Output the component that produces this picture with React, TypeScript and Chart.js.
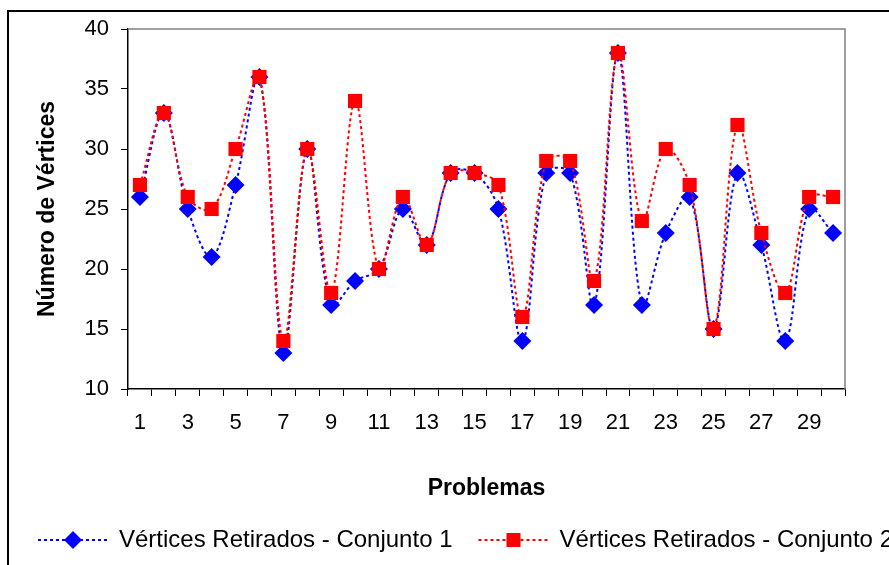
import { useEffect, useRef } from 'react';
import { Chart, registerables } from 'chart.js';

Chart.register(...registerables);

const categories = ['1', '2', '3', '4', '5', '6', '7', '8', '9', '10', '11', '12', '13', '14', '15', '16', '17', '18', '19', '20', '21', '22', '23', '24', '25', '26', '27', '28', '29', '30'];
const conjunto1 = [26, 33, 25, 21, 27, 36, 13, 30, 17, 19, 20, 25, 22, 28, 28, 25, 14, 28, 28, 17, 38, 17, 23, 26, 15, 28, 22, 14, 25, 23];
const conjunto2 = [27, 33, 26, 25, 30, 36, 14, 30, 18, 34, 20, 26, 22, 28, 28, 27, 16, 29, 29, 19, 38, 24, 30, 27, 15, 32, 23, 18, 26, 26];
const seriesNames = ['Vértices Retirados - Conjunto 1', 'Vértices Retirados - Conjunto 2'];
const yTitle = 'Número de Vértices';
const xTitle = 'Problemas';
const yMin = 10;
const yMax = 40;
const yStep = 5;

const FONT = "'Liberation Sans', Arial, sans-serif";
const BLUE = '#0000FF';
const RED = '#FF0000';
const COLORS = [BLUE, RED];

function drawMarker(ctx: CanvasRenderingContext2D, kind: number, cx: number, cy: number) {
  ctx.fillStyle = COLORS[kind];
  ctx.beginPath();
  if (kind === 0) {
    ctx.moveTo(cx, cy - 9);
    ctx.lineTo(cx + 9, cy);
    ctx.lineTo(cx, cy + 9);
    ctx.lineTo(cx - 9, cy);
    ctx.closePath();
  } else {
    ctx.rect(cx - 7, cy - 7, 14, 14);
  }
  ctx.fill();
}

const legendPlugin = {
  id: 'customLegend',
  afterDraw(chart: any) {
    const ctx: CanvasRenderingContext2D = chart.ctx;
    ctx.save();
    ctx.font = `24px ${FONT}`;
    ctx.textBaseline = 'middle';
    ctx.textAlign = 'left';
    const y = 540;
    let x = 38;
    seriesNames.forEach((name, i) => {
      ctx.strokeStyle = COLORS[i];
      ctx.lineWidth = 2;
      ctx.setLineDash([3, 3]);
      ctx.beginPath();
      ctx.moveTo(x, y);
      ctx.lineTo(x + 70, y);
      ctx.stroke();
      ctx.setLineDash([]);
      drawMarker(ctx, i, x + 35, y);
      ctx.fillStyle = '#000';
      ctx.fillText(name, x + 81, y);
      x = x + 81 + ctx.measureText(name).width + 26;
    });
    ctx.restore();
  },
};

const framePlugin = {
  id: 'frame',
  beforeDraw(chart: any) {
    const ctx = chart.ctx;
    ctx.save();
    ctx.strokeStyle = '#000';
    ctx.lineWidth = 2;
    ctx.beginPath();
    ctx.moveTo(8, chart.height);
    ctx.lineTo(8, 11);
    ctx.lineTo(chart.width, 11);
    ctx.stroke();
    ctx.restore();
  },
  beforeDatasetsDraw(chart: any) {
    const { ctx, chartArea } = chart;
    ctx.save();
    ctx.strokeStyle = '#808080';
    ctx.lineWidth = 1.5;
    ctx.beginPath();
    ctx.moveTo(chartArea.left, chartArea.top);
    ctx.lineTo(chartArea.right, chartArea.top);
    ctx.lineTo(chartArea.right, chartArea.bottom);
    ctx.stroke();
    ctx.restore();
  },
};

export default function App() {
  const ref = useRef<HTMLCanvasElement>(null);

  useEffect(() => {
    if (!ref.current) return;
    Chart.defaults.font.family = FONT;
    Chart.defaults.color = '#000';
    const chart = new Chart(ref.current, {
      type: 'line',
      data: {
        labels: categories,
        datasets: [
          {
            label: seriesNames[0],
            data: conjunto1,
            borderColor: BLUE,
            backgroundColor: BLUE,
            borderWidth: 2,
            borderDash: [3, 3],
            tension: 0.35,
            pointStyle: 'rectRot',
            pointRadius: 9,
            pointBorderWidth: 0,
            pointBackgroundColor: BLUE,
            order: 1,
          },
          {
            label: seriesNames[1],
            data: conjunto2,
            borderColor: RED,
            backgroundColor: RED,
            borderWidth: 2,
            borderDash: [3, 3],
            tension: 0.35,
            pointStyle: 'rect',
            pointRadius: 10,
            pointBorderWidth: 0,
            pointBackgroundColor: RED,
            order: 0,
          },
        ],
      },
      options: {
        responsive: false,
        animation: false,
        layout: { padding: { left: 34, top: 29, right: 44, bottom: 63 } },
        plugins: {
          tooltip: { enabled: false },
          legend: { display: false },
        },
        scales: {
          x: {
            type: 'category',
            offset: true,
            afterFit: (s: any) => {
              s.height = 113;
            },
            grid: {
              offset: true,
              drawOnChartArea: false,
              drawTicks: true,
              tickLength: 7,
              color: '#000',
            },
            border: { color: '#000', width: 1.5 },
            ticks: {
              autoSkip: false,
              maxRotation: 0,
              padding: 14,
              font: { size: 22, family: FONT },
              color: '#000',
              callback: (_v: any, i: number) => (i % 2 === 0 ? categories[i] : ''),
            },
            title: {
              display: true,
              text: xTitle,
              font: { size: 23, weight: 'bold', family: FONT },
              color: '#000',
              padding: { top: 0, bottom: 0 },
            },
          },
          y: {
            min: yMin,
            max: yMax,
            afterFit: (s: any) => {
              s.width = 94;
            },
            grid: {
              drawOnChartArea: false,
              tickLength: 7,
              color: '#000',
            },
            border: { color: '#000', width: 1.5 },
            ticks: {
              stepSize: yStep,
              padding: 12,
              font: { size: 22, family: FONT },
              color: '#000',
            },
            title: {
              display: true,
              text: yTitle,
              font: { size: 23, weight: 'bold', family: FONT },
              color: '#000',
              padding: { top: 0, bottom: 0 },
            },
          },
        },
      },
      plugins: [framePlugin, legendPlugin],
    } as any);
    return () => chart.destroy();
  }, []);

  return (
    <div style={{ position: 'fixed', left: 0, top: 0, width: 889, height: 565, overflow: 'hidden', background: '#fff' }}>
      <canvas ref={ref} width={889} height={565} style={{ display: 'block' }} />
    </div>
  );
}
